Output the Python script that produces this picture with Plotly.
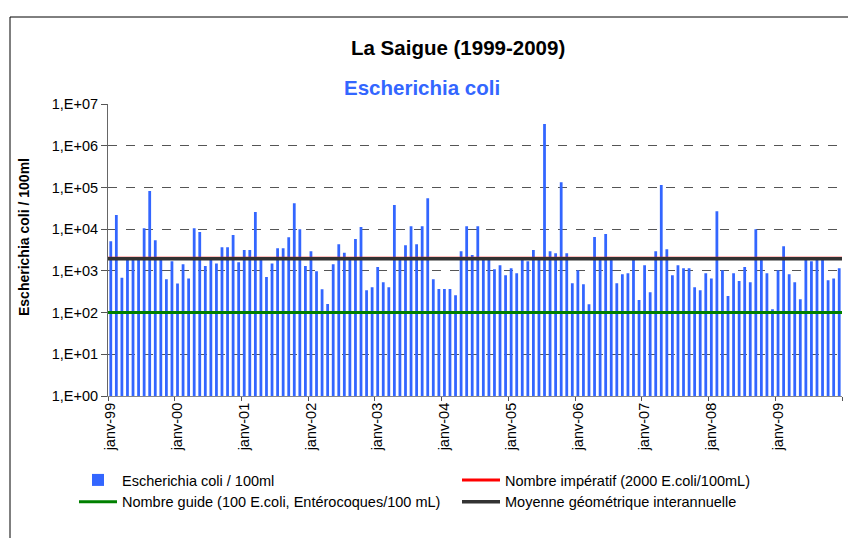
import plotly.graph_objects as go

# monthly E. coli counts (per 100 ml), janv-99 .. déc-09
ecoli = [
    5100, 21700, 680, 1900, 1900, 1900, 10500, 82000, 5400, 1900, 630, 1700,
    500, 1440, 660, 10500, 8500, 1300, 1900, 1500, 3700, 3700, 7200, 1600,
    3150, 3150, 25700, 1900, 710, 1500, 3500, 3500, 6400, 42000, 10000, 1300,
    2960, 980, 360, 160, 1440, 4360, 2700, 1900, 5800, 11200, 345, 405,
    1230, 535, 405, 37700, 1900, 4120, 11800, 4360, 11800, 55400, 630, 365,
    365, 365, 260, 2960, 11800, 2400, 11800, 1900, 1900, 1100, 1370, 790,
    1150, 875, 1900, 1700, 3150, 1900, 3300000, 2960, 2660, 134000, 2660, 505,
    1040, 480, 158, 6450, 1900, 7600, 1900, 505, 830, 875, 1900, 200,
    1370, 307, 2960, 114000, 3300, 790, 1370, 1150, 1150, 405, 345, 875,
    660, 27000, 1040, 250, 875, 570, 1230, 535, 10000, 1900, 875, 120,
    1040, 3900, 830, 535, 210, 1900, 1700, 1900, 1900, 595, 660, 1150,
]
months = list(range(len(ecoli)))
year_labels = ['janv-99', 'janv-00', 'janv-01', 'janv-02', 'janv-03', 'janv-04',
               'janv-05', 'janv-06', 'janv-07', 'janv-08', 'janv-09']
y_tick_values = [1, 10, 100, 1000, 10000, 100000, 1000000, 10000000]
y_tick_labels = ['1,E+00', '1,E+01', '1,E+02', '1,E+03', '1,E+04', '1,E+05', '1,E+06', '1,E+07']
nombre_imperatif = 2000
nombre_guide = 100
moyenne_geo = 1950

font = 'Liberation Sans, Arial, sans-serif'
x_span = [-0.5, len(ecoli) - 0.5]
pw, ph = 734, 292  # plot area size in px
off = 8  # page body margin


def px_x(x):
    return (x - 108) / pw


def px_y(y):
    return (396 - y) / ph


fig = go.Figure()
fig.add_trace(go.Bar(x=months, y=ecoli, width=0.5,
                     marker=dict(color='#3366FF', line=dict(width=0)),
                     name='Escherichia coli / 100ml', legend='legend'))
fig.add_trace(go.Scatter(x=x_span, y=[nombre_imperatif] * 2, mode='lines',
                         line=dict(color='#FF0000', width=3),
                         name='Nombre impératif (2000 E.coli/100mL)', legend='legend2'))
fig.add_trace(go.Scatter(x=x_span, y=[nombre_guide] * 2, mode='lines',
                         line=dict(color='#008000', width=3),
                         name='Nombre guide (100 E.coli, Entérocoques/100 mL)', legend='legend'))
fig.add_trace(go.Scatter(x=x_span, y=[moyenne_geo] * 2, mode='lines',
                         line=dict(color='#333333', width=3.5),
                         name='Moyenne géométrique interannuelle', legend='legend2'))

legend_style = dict(orientation='v', yanchor='top', xanchor='left', traceorder='normal',
                    bgcolor='rgba(0,0,0,0)', font=dict(size=14.5), itemwidth=38,
                    tracegroupgap=0)
fig.update_layout(
    width=856, height=538,
    margin=dict(l=108 - off, r=856 - (108 - off) - pw, t=104 - off,
                b=538 - (104 - off) - ph, autoexpand=False),
    paper_bgcolor='white', plot_bgcolor='white',
    font=dict(family=font, size=14.5, color='black'),
    showlegend=True,
    legend=dict(x=px_x(74), y=px_y(464), **legend_style),
    legend2=dict(x=px_x(457), y=px_y(464), **legend_style),
)
fig.update_xaxes(range=x_span, tickvals=[12 * k for k in range(len(year_labels))],
                 ticktext=year_labels, tickangle=-90, ticks='',
                 minor=dict(tickvals=[12 * k - 0.5 for k in range(len(year_labels) + 1)],
                            ticks='outside', ticklen=4, tickcolor='#555', showgrid=False),
                 showline=True, linecolor='#888', linewidth=1, showgrid=False,
                 zeroline=False, tickfont=dict(size=14.5))
fig.update_yaxes(type='log', range=[0, 7], tickvals=y_tick_values, ticktext=y_tick_labels,
                 ticks='outside', ticklen=6, tickcolor='#555',
                 showline=True, linecolor='#666', linewidth=1,
                 showgrid=True, gridcolor='#555', griddash='dash', gridwidth=1,
                 zeroline=False, tickfont=dict(size=14.5))

fig.add_annotation(text='<b>La Saigue (1999-2009)</b>', xref='paper', yref='paper',
                   x=px_x(458), y=px_y(48), xanchor='center', yanchor='middle',
                   showarrow=False, font=dict(size=20.5, color='black'))
fig.add_annotation(text='<b>Escherichia coli</b>', xref='paper', yref='paper',
                   x=px_x(422), y=px_y(87), xanchor='center', yanchor='middle',
                   showarrow=False, font=dict(size=20.5, color='#3366FF'))
fig.add_annotation(text='<b>Escherichia coli / 100ml</b>', xref='paper', yref='paper',
                   x=px_x(24), y=px_y(237), xanchor='center', yanchor='middle', textangle=-90,
                   showarrow=False, font=dict(size=14, color='black'))

# outer chart frame
fig.add_shape(type='rect', xref='paper', yref='paper',
              x0=px_x(10), x1=px_x(849), y0=px_y(545), y1=px_y(17),
              line=dict(color='black', width=1), fillcolor='rgba(0,0,0,0)')

fig.write_html('out.html')
